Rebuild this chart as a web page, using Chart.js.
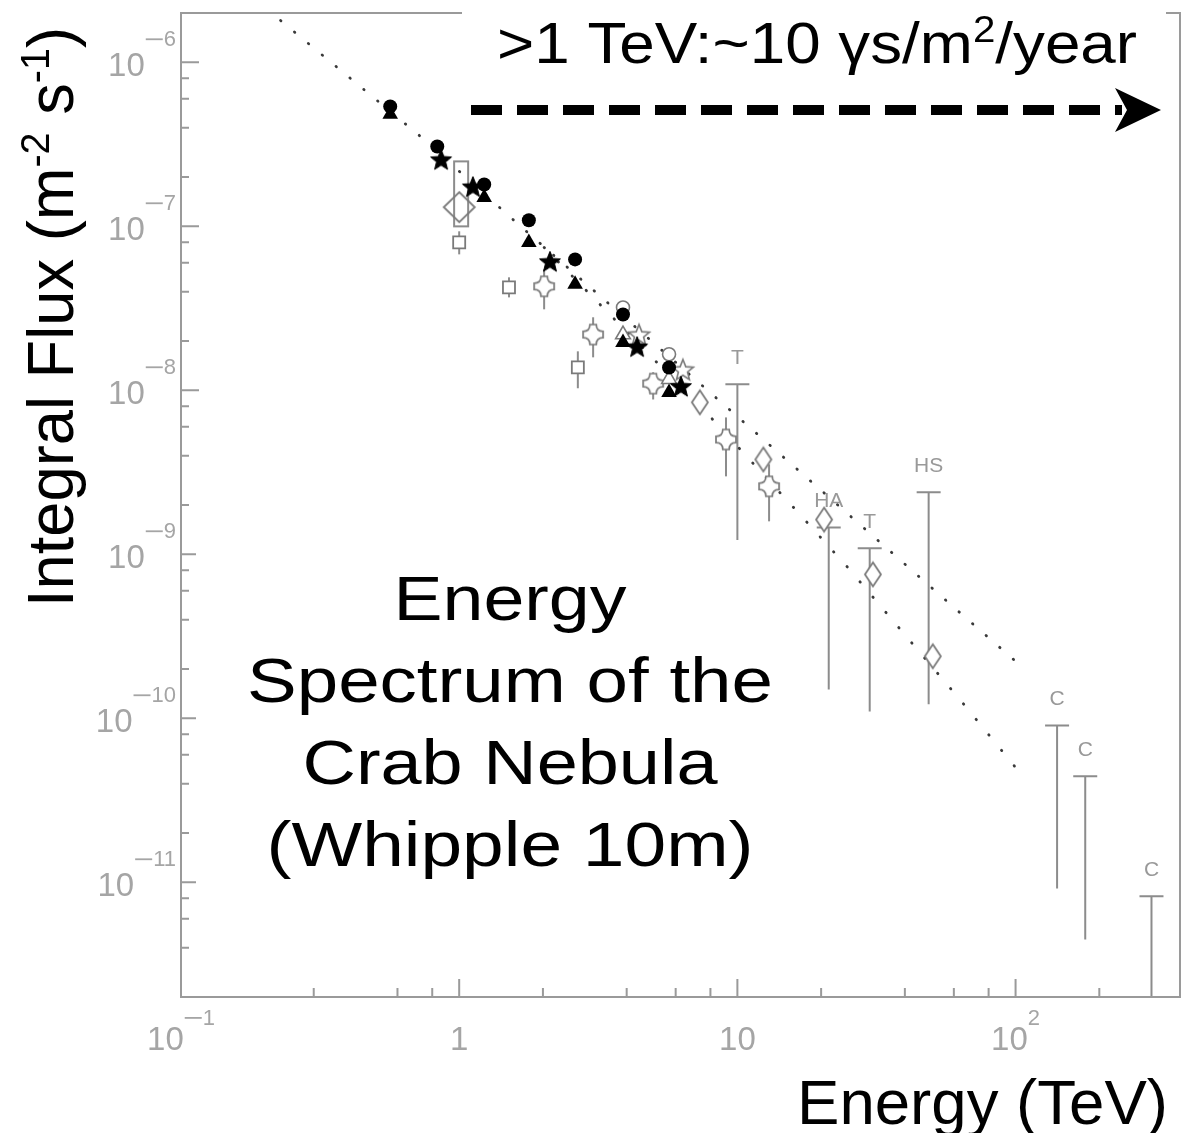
<!DOCTYPE html>
<html>
<head>
<meta charset="utf-8">
<script src="https://cdn.jsdelivr.net/npm/chart.js@4.4.1/dist/chart.umd.min.js"></script>
<style>
html, body { margin: 0; padding: 0; background: #fff; }
</style>
</head>
<body>
<canvas id="crabChart" width="1191" height="1133"></canvas>
<script>
// energies in TeV, integral flux in m^-2 s^-1
const filledCircleE = [0.565, 0.834, 1.23, 1.78, 2.61, 3.88, 5.68];
const filledCircleF = [5.39e-7, 3.07e-7, 1.80e-7, 1.09e-7, 6.29e-8, 2.90e-8, 1.38e-8];

const filledTriangleE = [0.565, 1.23, 1.78, 2.61, 3.88, 5.68];
const filledTriangleF = [4.82e-7, 1.50e-7, 7.98e-8, 4.43e-8, 1.96e-8, 9.7e-9];

const filledStarE = [0.861, 1.12, 2.12, 4.36, 6.27];
const filledStarF = [2.56e-7, 1.75e-7, 6.12e-8, 1.85e-8, 1.06e-8];

const openCircleE = [3.88, 5.68];
const openCircleF = [3.2e-8, 1.66e-8];

const openTriangleE = [3.88, 5.68];
const openTriangleF = [2.19e-8, 1.17e-8];

const openStarE = [4.43, 6.37];
const openStarF = [2.19e-8, 1.34e-8];

const squareE = [1.0, 1.51, 2.67];
const squareF = [7.98e-8, 4.25e-8, 1.38e-8];
const squareHi = [9.33e-8, 4.89e-8, 1.73e-8];
const squareLo = [6.75e-8, 3.69e-8, 1.03e-8];

// the tall open box around 1 TeV: [Emin, Emax, Fmin, Fmax]
const boxRange = [0.959, 1.077, 1.0e-7, 2.49e-7];

const bigDiamondE = [1.0];
const bigDiamondF = [1.31e-7];

const diamondE = [7.33, 12.4, 20.5, 30.7, 50.4];
const diamondF = [8.45e-9, 3.79e-9, 1.63e-9, 7.55e-10, 2.39e-10];

const crossE = [2.02, 3.03, 4.98, 9.1, 13.0];
const crossF = [4.31e-8, 2.19e-8, 1.1e-8, 5.02e-9, 2.6e-9];
const crossHi = [5.47e-8, 2.79e-8, 1.29e-8, 6.84e-9, 3.54e-9];
const crossLo = [3.12e-8, 1.59e-8, 8.8e-9, 2.99e-9, 1.59e-9];

const limitE = [10.0, 21.3, 29.9, 48.7, 141, 178, 308];
const limitTop = [1.09e-8, 1.46e-9, 1.09e-9, 2.39e-9, 9.06e-11, 4.43e-11, 8.22e-12];
const limitBottom = [1.2e-9, 1.5e-10, 1.1e-10, 1.22e-10, 9.18e-12, 4.49e-12, 2.0e-12];
const limitLabel = ['T', 'HA', 'T', 'HS', 'C', 'C', 'C'];

const fitUpperE = [0.228, 0.718, 1.60, 3.16, 7.97, 25.1, 62.9, 100];
const fitUpperF = [1.80e-6, 3.59e-7, 1.06e-7, 3.85e-8, 9.72e-9, 1.75e-9, 4.43e-10, 2.23e-10];

const fitLowerE = [2.02, 3.18, 7.97, 15.8, 25.1, 39.6, 62.9, 100];
const fitLowerF = [7.44e-8, 3.39e-8, 6.93e-9, 1.96e-9, 8.22e-10, 3.30e-10, 1.31e-10, 5.02e-11];

const xLabelValues = [0.1, 1, 10, 100];
const xLabelBase = ['10', '1', '10', '10'];
const xLabelExp = ['\u22121', '', '', '2'];

const yLabelValues = [1e-6, 1e-7, 1e-8, 1e-9, 1e-10, 1e-11];
const yLabelExp = ['\u22126', '\u22127', '\u22128', '\u22129', '\u221210', '\u221211'];

const titleLines = ['Energy', 'Spectrum of the', 'Crab Nebula', '(Whipple 10m)'];

const FONT = '"Liberation Sans", Arial, sans-serif';
const GRAY = '#8c8c8c';
const AXIS_GRAY = '#9a9a9a';
const LABEL_GRAY = '#a5a5a5';

function pts(xs, ys) {
    return xs.map((x, i) => ({ x: x, y: ys[i] }));
}

function makeMarker(w, h, draw) {
    const c = document.createElement('canvas');
    c.width = w;
    c.height = h;
    draw(c.getContext('2d'), w / 2, h / 2);
    return c;
}

function starPath(g, cx, cy, R, r) {
    g.beginPath();
    for (let i = 0; i < 10; i++) {
        const a = -Math.PI / 2 + i * Math.PI / 5;
        const rad = i % 2 ? r : R;
        const px = cx + Math.cos(a) * rad, py = cy + Math.sin(a) * rad;
        if (i === 0) g.moveTo(px, py); else g.lineTo(px, py);
    }
    g.closePath();
}

const filledStar = makeMarker(26, 26, function(g, cx, cy) {
    starPath(g, cx, cy + 1, 11, 4.8);
    g.fillStyle = '#000';
    g.fill();
    g.strokeStyle = '#000';
    g.lineWidth = 1;
    g.stroke();
});

const openStar = makeMarker(28, 28, function(g, cx, cy) {
    starPath(g, cx, cy + 1, 11, 4.8);
    g.fillStyle = '#fff';
    g.fill();
    g.strokeStyle = '#7a7a7a';
    g.lineWidth = 1.6;
    g.stroke();
});

function diamond(w, h, fill) {
    return makeMarker(w + 4, h + 4, function(g, cx, cy) {
        g.beginPath();
        g.moveTo(cx, cy - h / 2);
        g.lineTo(cx + w / 2, cy);
        g.lineTo(cx, cy + h / 2);
        g.lineTo(cx - w / 2, cy);
        g.closePath();
        if (fill) {
            g.fillStyle = '#fff';
            g.fill();
        }
        g.strokeStyle = '#7a7a7a';
        g.lineWidth = 1.8;
        g.stroke();
    });
}
const smallDiamond = diamond(16, 24, true);
const bigDiamond = diamond(31, 30, false);

// plus sign with rounded inner corners
const openCross = makeMarker(26, 26, function(g, cx, cy) {
    const R = 10, w = 3.2;
    g.beginPath();
    g.moveTo(cx - w, cy - R);
    g.lineTo(cx + w, cy - R);
    g.quadraticCurveTo(cx + w, cy - w, cx + R, cy - w);
    g.lineTo(cx + R, cy + w);
    g.quadraticCurveTo(cx + w, cy + w, cx + w, cy + R);
    g.lineTo(cx - w, cy + R);
    g.quadraticCurveTo(cx - w, cy + w, cx - R, cy + w);
    g.lineTo(cx - R, cy - w);
    g.quadraticCurveTo(cx - w, cy - w, cx - w, cy - R);
    g.closePath();
    g.fillStyle = '#fff';
    g.fill();
    g.strokeStyle = '#7a7a7a';
    g.lineWidth = 1.7;
    g.stroke();
});

// draws "base" + superscript exponent
function drawPower(ctx, base, exp, left, centerY, supLift) {
    ctx.font = '33px ' + FONT;
    const wb = ctx.measureText(base).width;
    ctx.fillText(base, left, centerY + 12);
    if (!exp) return;
    let x = left + wb;
    let digits = exp;
    if (exp[0] === '\u2212') {
        ctx.fillRect(x + 1, centerY - supLift - 8, 17, 1.8);
        x += 19;
        digits = exp.slice(1);
    }
    ctx.font = '22px ' + FONT;
    ctx.fillText(digits, x, centerY - supLift);
}

function powerWidth(ctx, base, exp) {
    ctx.font = '33px ' + FONT;
    let w = ctx.measureText(base).width;
    if (exp) {
        let digits = exp;
        if (exp[0] === '\u2212') {
            w += 19;
            digits = exp.slice(1);
        }
        ctx.font = '22px ' + FONT;
        w += ctx.measureText(digits).width;
    }
    return w;
}

// rich text: segments of [text, size, rise], squeezed/stretched to a width
function drawRich(ctx, segs, x, y, width, align) {
    let total = 0;
    segs.forEach(function(s) {
        ctx.font = s[1] + 'px ' + FONT;
        total += ctx.measureText(s[0]).width;
    });
    const k = width / total;
    ctx.save();
    const startX = align === 'center' ? x - width / 2 : x;
    ctx.translate(startX, y);
    ctx.scale(k, 1);
    ctx.textAlign = 'left';
    ctx.textBaseline = 'alphabetic';
    let cx = 0;
    segs.forEach(function(s) {
        ctx.font = s[1] + 'px ' + FONT;
        ctx.fillText(s[0], cx, -s[2]);
        cx += ctx.measureText(s[0]).width;
    });
    ctx.restore();
}

const decorations = {
    id: 'decorations',
    beforeDatasetsDraw(chart) {
        const ctx = chart.ctx;
        const xs = chart.scales.x, ys = chart.scales.y;
        const a = chart.chartArea;
        ctx.save();
        ctx.beginPath();
        ctx.rect(a.left, a.top, a.right - a.left, a.bottom - a.top);
        ctx.clip();
        ctx.strokeStyle = GRAY;
        ctx.lineWidth = 2;

        // tall error box
        const bx0 = xs.getPixelForValue(boxRange[0]), bx1 = xs.getPixelForValue(boxRange[1]);
        const by0 = ys.getPixelForValue(boxRange[3]), by1 = ys.getPixelForValue(boxRange[2]);
        ctx.strokeRect(bx0, by0, bx1 - bx0, by1 - by0);

        // error bars
        function bars(E, hi, lo) {
            E.forEach(function(e, i) {
                const px = xs.getPixelForValue(e);
                ctx.beginPath();
                ctx.moveTo(px, ys.getPixelForValue(hi[i]));
                ctx.lineTo(px, ys.getPixelForValue(lo[i]));
                ctx.stroke();
            });
        }
        bars(squareE, squareHi, squareLo);
        bars(crossE, crossHi, crossLo);

        // upper limits with labels
        ctx.fillStyle = '#999';
        ctx.font = '21px ' + FONT;
        ctx.textAlign = 'center';
        ctx.textBaseline = 'middle';
        limitE.forEach(function(e, i) {
            const px = xs.getPixelForValue(e);
            const top = ys.getPixelForValue(limitTop[i]);
            const bot = ys.getPixelForValue(limitBottom[i]);
            ctx.beginPath();
            ctx.moveTo(px, top);
            ctx.lineTo(px, bot);
            ctx.moveTo(px - 12, top);
            ctx.lineTo(px + 12, top);
            ctx.stroke();
            ctx.fillText(limitLabel[i], px, top - 26);
        });
        ctx.restore();
    },
    afterDatasetsDraw(chart) {
        const ctx = chart.ctx;
        const xs = chart.scales.x, ys = chart.scales.y;
        const a = chart.chartArea;
        ctx.save();

        // frame
        ctx.strokeStyle = AXIS_GRAY;
        ctx.lineWidth = 2;
        ctx.strokeRect(a.left, a.top, a.right - a.left, a.bottom - a.top);

        // ticks pointing inward
        function tickInfo(v) {
            const e = Math.floor(Math.log10(v) + 1e-9);
            const sig = v / Math.pow(10, e);
            const r = Math.round(sig);
            return Math.abs(sig - r) < 1e-6 ? r : 0;
        }
        ctx.beginPath();
        xs.ticks.forEach(function(t) {
            const s = tickInfo(t.value);
            if (!s) return;
            const px = xs.getPixelForValue(t.value);
            if (px < a.left + 1 || px > a.right - 1) return;
            ctx.moveTo(px, a.bottom);
            ctx.lineTo(px, a.bottom - (s === 1 ? 18 : 9));
        });
        ys.ticks.forEach(function(t) {
            const s = tickInfo(t.value);
            if (!s) return;
            const py = ys.getPixelForValue(t.value);
            if (py < a.top + 1 || py > a.bottom - 1) return;
            ctx.moveTo(a.left, py);
            ctx.lineTo(a.left + (s === 1 ? 18 : 8), py);
        });
        ctx.stroke();

        // tick labels
        ctx.fillStyle = LABEL_GRAY;
        ctx.textAlign = 'left';
        ctx.textBaseline = 'alphabetic';
        xLabelValues.forEach(function(v, i) {
            const px = xs.getPixelForValue(v);
            const w = powerWidth(ctx, xLabelBase[i], xLabelExp[i]);
            drawPower(ctx, xLabelBase[i], xLabelExp[i], px - w / 2, a.bottom + 41, 13);
        });
        yLabelValues.forEach(function(v, i) {
            const py = ys.getPixelForValue(v);
            const w = powerWidth(ctx, '10', yLabelExp[i]);
            drawPower(ctx, '10', yLabelExp[i], 176 - w, py + 2, 18);
        });

        // white boxes of the slide overlay
        ctx.fillStyle = '#fff';
        ctx.fillRect(462, 0, 704, 80);
        ctx.fillRect(196, 540, 592, 345);

        ctx.fillStyle = '#000';
        drawRich(ctx, [['>1 TeV:~10 \u03b3s/m', 57, 0], ['2', 36, 21], ['/year', 57, 0]], 497, 63, 640, 'left');

        // dashed arrow
        ctx.strokeStyle = '#000';
        ctx.lineWidth = 10;
        ctx.setLineDash([31, 15]);
        ctx.beginPath();
        ctx.moveTo(471, 110);
        ctx.lineTo(1122, 110);
        ctx.stroke();
        ctx.setLineDash([]);
        ctx.beginPath();
        ctx.moveTo(1161, 110);
        ctx.lineTo(1115, 88);
        ctx.lineTo(1127, 110);
        ctx.lineTo(1115, 132);
        ctx.closePath();
        ctx.fill();

        // title block
        const titleWidths = [233, 526, 415, 487];
        const titleBase = [620, 702, 784, 866];
        titleLines.forEach(function(line, i) {
            drawRich(ctx, [[line, 63, 0]], 510, titleBase[i], titleWidths[i], 'center');
        });

        // axis titles
        drawRich(ctx, [['Energy (TeV)', 63, 0]], 797, 1124, 371, 'left');
        ctx.save();
        ctx.translate(73, 607);
        ctx.rotate(-Math.PI / 2);
        drawRich(ctx, [['Integral Flux (m', 64, 0], ['-2', 40, 24], [' s', 64, 0], ['-1', 40, 24], [')', 64, 0]], 0, 0, 580, 'left');
        ctx.restore();

        ctx.restore();
    }
};

const ctx = document.getElementById('crabChart').getContext('2d');

new Chart(ctx, {
    type: 'scatter',
    data: {
        datasets: [
            { data: pts(filledCircleE, filledCircleF), pointStyle: 'circle', pointRadius: 7, backgroundColor: '#000', borderColor: '#000', borderWidth: 0 },
            { data: pts(filledStarE, filledStarF), pointStyle: filledStar, pointRadius: 5 },
            { data: pts(filledTriangleE, filledTriangleF), pointStyle: 'triangle', pointRadius: 9, backgroundColor: '#000', borderColor: '#000', borderWidth: 0 },
            { data: pts(openCircleE, openCircleF), pointStyle: 'circle', pointRadius: 6.5, backgroundColor: '#fff', borderColor: '#7a7a7a', borderWidth: 1.6 },
            { data: pts(openStarE, openStarF), pointStyle: openStar, pointRadius: 5 },
            { data: pts(openTriangleE, openTriangleF), pointStyle: 'triangle', pointRadius: 8.5, backgroundColor: '#fff', borderColor: '#7a7a7a', borderWidth: 1.6 },
            { data: pts(squareE, squareF), pointStyle: 'rect', pointRadius: 8.5, backgroundColor: '#fff', borderColor: '#7a7a7a', borderWidth: 1.8 },
            { data: pts(diamondE, diamondF), pointStyle: smallDiamond, pointRadius: 5 },
            { data: pts(bigDiamondE, bigDiamondF), pointStyle: bigDiamond, pointRadius: 5 },
            { data: pts(crossE, crossF), pointStyle: openCross, pointRadius: 5 },
            { data: pts(fitUpperE, fitUpperF), showLine: true, pointRadius: 0, borderColor: '#3a3a3a', borderWidth: 2.8, borderDash: [0.5, 17.5], borderCapStyle: 'round' },
            { data: pts(fitLowerE, fitLowerF), showLine: true, pointRadius: 0, borderColor: '#3a3a3a', borderWidth: 2.8, borderDash: [0.5, 19.5], borderCapStyle: 'round' }
        ]
    },
    options: {
        responsive: false,
        animation: false,
        devicePixelRatio: 1,
        layout: { padding: { left: 181, top: 13, right: 11, bottom: 136 } },
        plugins: {
            legend: { display: false },
            tooltip: { enabled: false }
        },
        scales: {
            x: { type: 'logarithmic', min: 0.1, max: 390, display: false },
            y: { type: 'logarithmic', min: 2e-12, max: 2e-6, display: false }
        }
    },
    plugins: [decorations]
});
</script>
</body>
</html>
